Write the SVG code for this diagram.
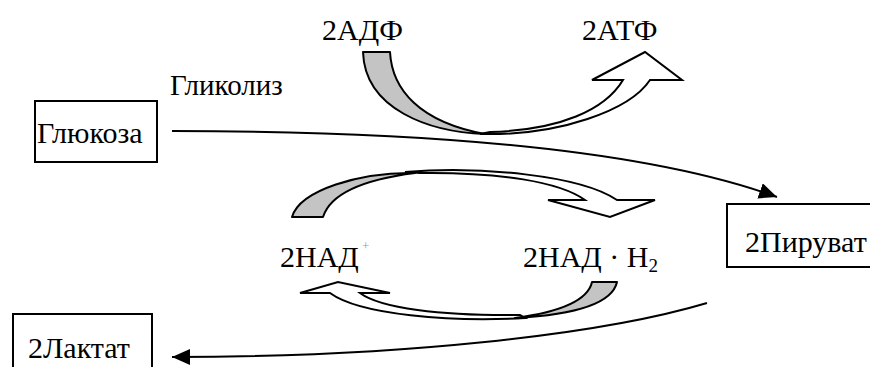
<svg xmlns="http://www.w3.org/2000/svg" width="870" height="367" viewBox="0 0 870 367" font-family="'Liberation Serif', 'DejaVu Serif', serif">
<style>
text{font-family:'Liberation Serif','DejaVu Serif',serif;font-size:30px;fill:#000}
.box{fill:#fff;stroke:#000;stroke-width:2}
.conn{fill:none;stroke:#000;stroke-width:2}
.g{fill:#c4c4c4;stroke:#000;stroke-width:2;stroke-linejoin:round}
.w{fill:#fff;stroke:#000;stroke-width:2;stroke-linejoin:miter}
</style>
<defs>
<marker id="ah" markerUnits="userSpaceOnUse" markerWidth="20" markerHeight="18" refX="18" refY="8" orient="auto">
<path d="M0,0 L18,8 L0,16 Z" fill="#000"/>
</marker>
</defs>
<rect width="870" height="367" fill="#fff"/>

<g id="connectors">
<path class="conn" d="M172,131 C350,131 620,140 777,197" marker-end="url(#ah)"/>
<path class="conn" d="M707,303 C600,335 400,357 172,357" marker-end="url(#ah)"/>
</g>

<g id="glucose">
<rect class="box" x="35" y="101" width="122" height="61"/>
<text x="37" y="143">Глюкоза</text>
</g>

<g id="glycolysis-label">
<text x="170" y="95" style="font-size:29px">Гликолиз</text>
</g>

<g id="pyruvate">
<rect class="box" x="727" y="204" width="200" height="63"/>
<text x="745" y="252">2Пируват</text>
</g>

<g id="lactate">
<rect class="box" x="13" y="314" width="139" height="80"/>
<text x="28" y="358">2Лактат</text>
</g>

<g id="adp-atp">
<text x="322" y="40">2АДФ</text>
<text x="582" y="40">2АТФ</text>
<path class="w" d="M480,134 C560,136 630,110 650,80 L682,80 L645,52 L592,80 L623,80 C605,110 560,130 490,132 Z"/>
<path class="g" d="M363,52 L390,52 C392,90 420,122 485,134 C430,132 365,110 363,52 Z"/>
</g>

<g id="nad-cycle">
<text x="280" y="267">2НАД</text>
<text x="362" y="250" style="font-size:13px;fill:#999">+</text>
<text x="523" y="267">2НАД · H<tspan style="font-size:19px" dy="5">2</tspan></text>
<path class="w" d="M405,172 C480,166 580,175 617,200 L655,200 L610,217 L548,200 L585,200 C560,182 500,172 420,173 Z"/>
<path class="g" d="M292,217 L323,217 C330,195 360,180 415,173 C360,172 300,190 292,217 Z"/>
<path class="w" d="M525,318 C450,322 360,315 330,293 L300,293 L338,282 L390,293 L360,293 C380,308 440,316 520,315 Z"/>
<path class="g" d="M592,282 L617,282 C612,305 570,315 515,318 C560,312 588,300 592,282 Z"/>
</g>
</svg>
